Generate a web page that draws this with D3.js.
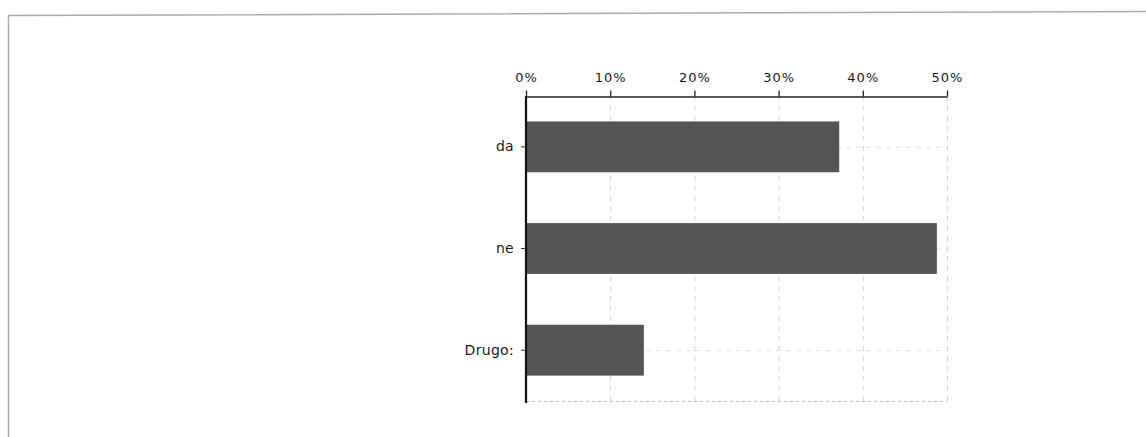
<!DOCTYPE html>
<html>
<head>
<meta charset="utf-8">
<script src="https://cdn.jsdelivr.net/npm/d3@7"></script>
<style>
  html, body { margin: 0; padding: 0; background: #fff; }
  svg { display: block; }
  text { font-family: "DejaVu Sans", sans-serif; fill: #1a1a1a; }
</style>
</head>
<body>
<svg id="chart" width="1146" height="437"></svg>
<script>
const categories = ["da", "ne", "Drugo:"];
const values = [37.2, 48.8, 14.0];
const tickValues = [0, 10, 20, 30, 40, 50];
const tickLabels = ["0%", "10%", "20%", "30%", "40%", "50%"];

const svg = d3.select("#chart");

// outer page frame
svg.append("path")
  .attr("d", "M8.5,437 L8.5,15.5 L1146,11.5")
  .attr("fill", "none")
  .attr("stroke", "#aaaaaa")
  .attr("stroke-width", 1.5);

const x = d3.scaleLinear().domain([0, 50]).range([526, 947]);
const y = d3.scaleBand().domain(categories).range([96, 401]).paddingInner(0.5).paddingOuter(0.25);

const g = svg.append("g");

// vertical dashed gridlines
g.selectAll(".vgrid").data(tickValues.slice(1)).join("line")
  .attr("x1", d => x(d) + 0.5).attr("x2", d => x(d) + 0.5)
  .attr("y1", 96).attr("y2", 401)
  .attr("stroke", "#d4d4d4").attr("stroke-dasharray", "5,5").attr("stroke-width", 1);

// horizontal dashed gridlines at band centers
g.selectAll(".hgrid").data(categories).join("line")
  .attr("x1", 526).attr("x2", 947)
  .attr("y1", d => y(d) + y.bandwidth() / 2 + 0.5)
  .attr("y2", d => y(d) + y.bandwidth() / 2 + 0.5)
  .attr("stroke", "#e2e2e2").attr("stroke-dasharray", "5,5").attr("stroke-width", 1);

// bottom dashed border
g.append("line")
  .attr("x1", 526).attr("x2", 947).attr("y1", 401.5).attr("y2", 401.5)
  .attr("stroke", "#b8b8b8").attr("stroke-dasharray", "3,3");

// bars
g.selectAll(".bar").data(categories).join("rect")
  .attr("x", x(0))
  .attr("y", d => y(d))
  .attr("width", (d, i) => x(values[i]) - x(0))
  .attr("height", y.bandwidth())
  .attr("fill", "#555555");

// top axis
const xAxis = d3.axisTop(x)
  .tickValues(tickValues)
  .tickFormat((d, i) => tickLabels[i])
  .tickSize(6)
  .tickSizeOuter(0)
  .tickPadding(9);
const xg = svg.append("g").attr("transform", "translate(0,96.5)").call(xAxis);
xg.select(".domain").attr("stroke", "#222").attr("stroke-width", 1.6);
xg.selectAll(".tick line").attr("stroke", "#222").attr("stroke-width", 1.3);
xg.selectAll(".tick text").style("font-size", "13px").style("letter-spacing", "1px").attr("fill", "#1a1a1a");

// left axis
const yAxis = d3.axisLeft(y).tickSize(5).tickSizeOuter(0).tickPadding(7);
const yg = svg.append("g").attr("transform", "translate(526,0)").call(yAxis);
yg.select(".domain").attr("stroke", "#111").attr("stroke-width", 2.2)
  .attr("d", "M0,96V403");
yg.selectAll(".tick line").attr("stroke", "#333").attr("stroke-width", 1);
yg.selectAll(".tick text").style("font-size", "14px").style("letter-spacing", "0.3px").attr("fill", "#1a1a1a");
</script>
</body>
</html>
